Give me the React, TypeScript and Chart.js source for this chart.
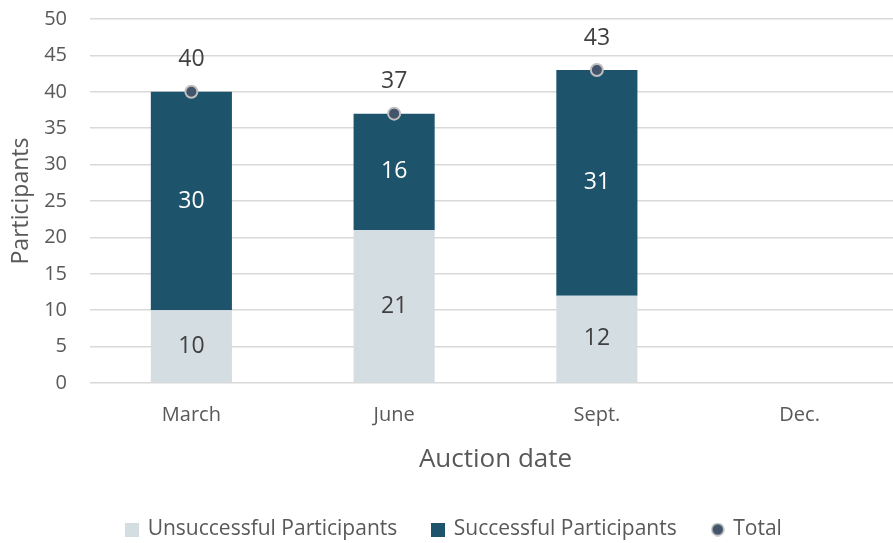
import React, { useEffect, useRef } from "react";
import { Chart, registerables } from "chart.js";

Chart.register(...registerables);

const categories = ["March", "June", "Sept.", "Dec."];
const unsuccessful = [10, 21, 12, null];
const successful = [30, 16, 31, null];
const totals = [40, 37, 43, null];
const yTicks = [0, 5, 10, 15, 20, 25, 30, 35, 40, 45, 50];

const FONT = "'Open Sans', sans-serif";
const LIGHT = "#d3dde2";
const DARK = "#1d546c";
const DOT = "#44546a";
const DOT_BORDER = "#bfbfbf";
const TEXT = "#595959";

function swatch(kind: "rect" | "circle", fill: string, stroke?: string) {
  const c = document.createElement("canvas");
  c.width = 14;
  c.height = 14;
  const g = c.getContext("2d")!;
  g.fillStyle = fill;
  if (kind === "rect") {
    g.fillRect(0, 0, 14, 14);
  } else {
    g.beginPath();
    g.arc(7, 7, 6, 0, Math.PI * 2);
    g.fill();
    if (stroke) {
      g.lineWidth = 1.5;
      g.strokeStyle = stroke;
      g.stroke();
    }
  }
  return c;
}

const labelPlugin = {
  id: "valueLabels",
  afterDatasetsDraw(chart: any) {
    const ctx = chart.ctx;
    ctx.save();
    ctx.textAlign = "center";
    ctx.textBaseline = "middle";
    ctx.font = `23px ${FONT}`;
    chart.data.datasets.forEach((ds: any, di: number) => {
      const meta = chart.getDatasetMeta(di);
      meta.data.forEach((el: any, i: number) => {
        const v = ds.data[i];
        if (v == null) return;
        if (meta.type === "bar") {
          const p = el.getProps(["x", "y", "base"], true);
          ctx.fillStyle = di === 0 ? "#404040" : "#ffffff";
          ctx.fillText(String(v), p.x, (p.y + p.base) / 2);
        } else {
          const p = el.getProps(["x", "y"], true);
          ctx.fillStyle = "#404040";
          ctx.fillText(String(v), p.x, p.y - 32);
        }
      });
    });
    ctx.restore();
  },
};

export default function App() {
  const ref = useRef<HTMLCanvasElement>(null);
  useEffect(() => {
    document.body.style.margin = "0";
    document.body.style.overflow = "hidden";
    const swatches = [swatch("rect", LIGHT), swatch("rect", DARK), swatch("circle", DOT, DOT_BORDER)];
    const chart = new Chart(ref.current!, {
      type: "bar",
      data: {
        labels: categories,
        datasets: [
          {
            label: "Unsuccessful Participants",
            data: unsuccessful,
            backgroundColor: LIGHT,
            stack: "bars",
            order: 1,
            barPercentage: 0.8,
            categoryPercentage: 0.5,
          },
          {
            label: "Successful Participants",
            data: successful,
            backgroundColor: DARK,
            stack: "bars",
            order: 1,
            barPercentage: 0.8,
            categoryPercentage: 0.5,
          },
          {
            type: "line",
            label: "Total",
            data: totals,
            showLine: false,
            stack: "total",
            order: 0,
            pointRadius: 6,
            pointHoverRadius: 6,
            pointBackgroundColor: DOT,
            pointBorderColor: DOT_BORDER,
            pointBorderWidth: 2,
          } as any,
        ],
      },
      options: {
        animation: false,
        responsive: true,
        maintainAspectRatio: false,
        layout: { autoPadding: false, padding: { top: 19, right: 0, left: 8, bottom: 0 } },
        scales: {
          x: {
            stacked: true,
            afterFit: (axis: any) => {
              axis.height = 100;
            },
            grid: { display: false, drawTicks: false },
            border: { display: false },
            ticks: { color: TEXT, font: { family: FONT, size: 20 }, padding: 20 },
            title: {
              display: true,
              text: "Auction date",
              color: TEXT,
              font: { family: FONT, size: 26 },
              padding: { top: 10, bottom: 7.5 },
            },
          },
          y: {
            stacked: true,
            min: 0,
            max: 50,
            afterFit: (axis: any) => {
              axis.width = 82;
              axis.paddingTop = 0;
              axis.paddingBottom = 0;
            },
            afterBuildTicks: (axis: any) => {
              axis.ticks = yTicks.map((v) => ({ value: v }));
            },
            grid: { color: "#d9d9d9", lineWidth: 1.5, drawTicks: false },
            border: { display: false },
            ticks: { color: TEXT, font: { family: FONT, size: 20 }, padding: 23 },
            title: {
              display: true,
              text: "Participants",
              color: TEXT,
              font: { family: FONT, size: 23 },
              padding: { top: 0, bottom: 0 },
            },
          },
        },
        plugins: {
          tooltip: { enabled: false },
          legend: {
            position: "bottom",
            labels: {
              color: TEXT,
              font: { family: FONT, size: 21 },
              usePointStyle: true,
              boxWidth: 10,
              boxHeight: 14,
              padding: 36,
              generateLabels: (ch: any) =>
                ch.data.datasets.map((ds: any, i: number) => ({
                  text: ds.label,
                  pointStyle: swatches[i],
                  fillStyle: "transparent",
                  strokeStyle: "transparent",
                  lineWidth: 0,
                  fontColor: TEXT,
                  hidden: false,
                  datasetIndex: i,
                })),
            },
          },
        },
      },
      plugins: [labelPlugin],
    });
    return () => chart.destroy();
  }, []);
  return (
    <div style={{ width: 893, height: 543, overflow: "hidden", position: "relative" }}>
      <div style={{ width: 901, height: 550, position: "relative" }}>
        <canvas ref={ref} />
      </div>
    </div>
  );
}
